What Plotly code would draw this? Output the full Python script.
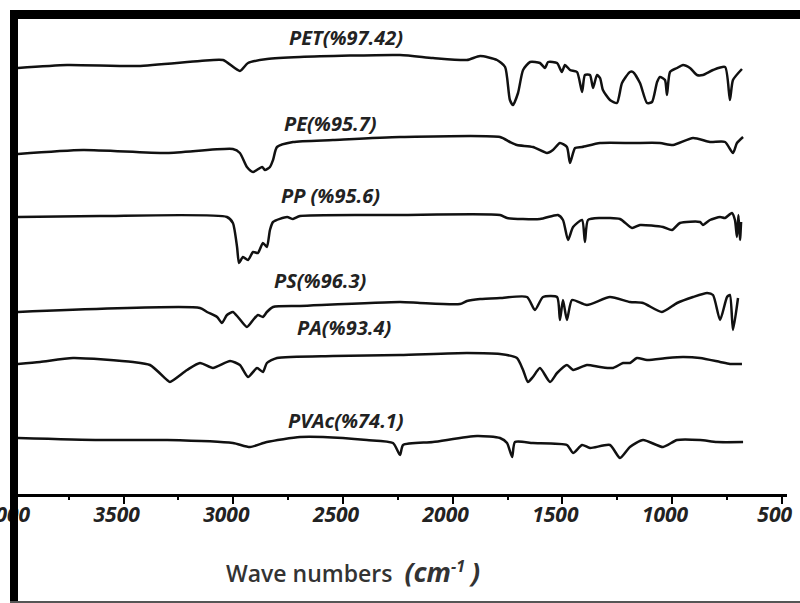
import plotly.graph_objects as go

# ---------------- data (wavenumber cm^-1, offset transmittance a.u.) ----------------
pet_wn = [3982, 3758, 3435, 3152, 3047, 2970, 2933, 2846, 2696, 2240, 2090, 1935, 1875, 1798,
          1761, 1739, 1725, 1702, 1679, 1647, 1602, 1579, 1565, 1524, 1502, 1488, 1465, 1433,
          1410, 1397, 1374, 1360, 1342, 1328, 1315, 1283, 1251, 1228, 1192, 1178, 1146, 1114,
          1091, 1068, 1055, 1032, 1023, 1009, 977, 950, 918, 886, 859, 813, 758, 736, 722, 681]
pet_t = [430, 433, 432, 437, 438, 427, 435, 439, 441, 443, 440, 438, 442, 438,
         431, 398, 393, 405, 428, 436, 435, 430, 436, 435, 426, 433, 428, 426,
         406, 423, 423, 410, 423, 420, 408, 398, 395, 415, 426, 426, 415, 395,
         396, 416, 421, 418, 403, 426, 430, 433, 430, 423, 423, 428, 431, 398, 418, 429]

pe_wn = [3982, 3685, 3302, 3002, 2970, 2938, 2910, 2869, 2856, 2833, 2819, 2801, 2728, 2546,
         2240, 1784, 1739, 1707, 1634, 1570, 1543, 1511, 1479, 1465, 1442, 1410, 1328, 1178,
         1055, 995, 904, 827, 758, 722, 704, 676]
pe_t = [344, 348, 345, 349, 345, 331, 326, 331, 328, 331, 338, 351, 356, 358,
        361, 361, 356, 353, 351, 345, 348, 355, 351, 335, 350, 351, 355, 355,
        355, 353, 360, 356, 356, 345, 355, 361]

pp_wn = [3982, 3608, 3029, 3002, 2983, 2974, 2956, 2933, 2910, 2888, 2865, 2847, 2833, 2819,
         2755, 2728, 2696, 2240, 1784, 1752, 1602, 1520, 1497, 1474, 1451, 1410, 1397, 1383,
         1328, 1237, 1182, 1146, 1041, 1000, 964, 872, 859, 827, 781, 758, 727, 713, 704, 697,
         690, 685]
pp_t = [281, 282, 281, 275, 251, 235, 241, 238, 246, 245, 255, 251, 268, 276,
        281, 279, 282, 283, 283, 280, 279, 283, 278, 258, 271, 278, 256, 278,
        280, 279, 270, 273, 271, 268, 275, 276, 273, 278, 281, 280, 285, 278, 261, 283,
        258, 276]

ps_wn = [3982, 3152, 3120, 3074, 3052, 3029, 3002, 2979, 2938, 2910, 2888, 2865, 2847, 2819,
         2696, 2240, 2149, 1967, 1935, 1875, 1784, 1661, 1625, 1588, 1524, 1511, 1497, 1479,
         1456, 1388, 1283, 1192, 1132, 1046, 977, 904, 840, 813, 781, 749, 736, 722, 699]
ps_t = [186, 190, 186, 181, 175, 183, 186, 181, 171, 178, 183, 181, 186, 191,
        192, 196, 195, 194, 197, 199, 200, 201, 188, 201, 201, 178, 198, 178,
        198, 193, 201, 196, 195, 186, 195, 201, 205, 203, 178, 201, 203, 168, 200]

pa_wn = [3982, 3881, 3731, 3457, 3380, 3302, 3289, 3211, 3152, 3093, 3015, 2970, 2933, 2892,
         2865, 2847, 2801, 2546, 2240, 1935, 1784, 1707, 1679, 1657, 1634, 1602, 1556, 1524,
         1479, 1451, 1388, 1328, 1269, 1223, 1192, 1160, 1114, 1023, 950, 872, 781, 736, 681]
pa_t = [134, 136, 140, 136, 133, 118, 116, 128, 135, 130, 137, 133, 121, 130,
        126, 135, 140, 142, 143, 145, 144, 140, 128, 116, 121, 130, 116, 125,
        133, 128, 133, 131, 130, 135, 135, 140, 138, 140, 141, 140, 136, 134, 134]

pvac_wn = [3982, 3608, 3302, 3002, 2924, 2847, 2696, 2591, 2391, 2272, 2240, 2226, 2090, 1889,
           1784, 1752, 1729, 1716, 1634, 1479, 1451, 1410, 1374, 1283, 1237, 1192, 1132, 1041,
           977, 872, 795, 676]
pvac_t = [60, 58, 58, 55, 51, 56, 61, 61, 58, 55, 43, 53, 56, 62,
          60, 55, 41, 56, 55, 53, 45, 53, 50, 53, 40, 51, 58, 51,
          58, 58, 56, 56]

series_names = ["PET", "PE", "PP", "PS", "PA", "PVAc"]
series_labels = ["PET(%97.42)", "PE(%95.7)", "PP (%95.6)", "PS(%96.3)", "PA(%93.4)", "PVAc(%74.1)"]
series_wn = [pet_wn, pe_wn, pp_wn, ps_wn, pa_wn, pvac_wn]
series_t = [pet_t, pe_t, pp_t, ps_t, pa_t, pvac_t]

tick_values = [4000, 3500, 3000, 2500, 2000, 1500, 1000, 500]
tick_labels = ["4000", "3500", "3000", "2500", "2000", "1500", "1000", "500"]
minor_tick_values = [3750, 3250, 2750, 2250, 1750, 1250, 750]

# label anchor positions (wavenumber, a.u.)
label_pos = [(2486, 461), (2559, 375), (2559, 303), (2605, 218), (2495, 171), (2486, 78)]

# ---------------- figure ----------------
W, H = 800, 603
fig = go.Figure()
for name, wn, t in zip(series_names, series_wn, series_t):
    fig.add_trace(go.Scatter(x=wn, y=t, mode="lines", name=name,
                             line=dict(color="#111111", width=2.5, shape="spline", smoothing=0.6),
                             showlegend=False))

label_font = dict(family="Open Sans", size=20, color="#222222", weight="bold", style="italic")
annotations = []
for text, (lx, ly) in zip(series_labels, label_pos):
    annotations.append(dict(x=lx, y=ly, xref="x", yref="y", text=text, showarrow=False,
                            font=label_font, xanchor="center", yanchor="middle"))

annotations.append(dict(
    x=224 / W, y=1 - 571 / H, xref="paper", yref="paper", xanchor="left", yanchor="middle",
    showarrow=False,
    text="Wave numbers  <b><i><span style='font-size:27px'>(cm</span><sup>-1</sup> <span style='font-size:27px'>)</span></i></b>",
    font=dict(family="Open Sans", size=23, color="#333333", weight=600)))

shapes = [
    # left thick bar
    dict(type="rect", xref="paper", yref="paper", x0=10 / W, x1=18 / W, y0=0, y1=1 - 10 / H,
         fillcolor="black", line=dict(width=0), layer="above"),
    # top thick bar
    dict(type="rect", xref="paper", yref="paper", x0=10 / W, x1=1, y0=1 - 19 / H, y1=1 - 10 / H,
         fillcolor="black", line=dict(width=0), layer="above"),
    # bottom thin line
    dict(type="rect", xref="paper", yref="paper", x0=10 / W, x1=1, y0=0, y1=2 / H,
         fillcolor="#555555", line=dict(width=0), layer="above"),
]

fig.update_layout(
    width=W, height=H,
    margin=dict(l=0, r=0, t=0, b=0, autoexpand=False),
    paper_bgcolor="white", plot_bgcolor="white",
    annotations=annotations, shapes=shapes,
    xaxis=dict(
        domain=[10 / W, 787 / W], range=[4018.2, 475.7], autorange=False, automargin=False,
        showgrid=False, zeroline=False,
        showline=True, linecolor="black", linewidth=2.5,
        ticks="outside", ticklen=7, tickwidth=2, tickcolor="black",
        tickvals=tick_values, ticktext=tick_labels, ticklabelshift=7,
        ticklabelstandoff=-7, ticklabeloverflow="allow",
        tickfont=dict(family="Open Sans", size=21, color="#222222", weight="bold", style="italic"),
        minor=dict(ticks="outside", ticklen=3, tickwidth=2, tickcolor="black",
                   tickvals=minor_tick_values),
    ),
    yaxis=dict(
        domain=[109 / H, 1], range=[4, 498], autorange=False, automargin=False,
        visible=False, showgrid=False, zeroline=False,
    ),
)

fig.write_html("out.html")
